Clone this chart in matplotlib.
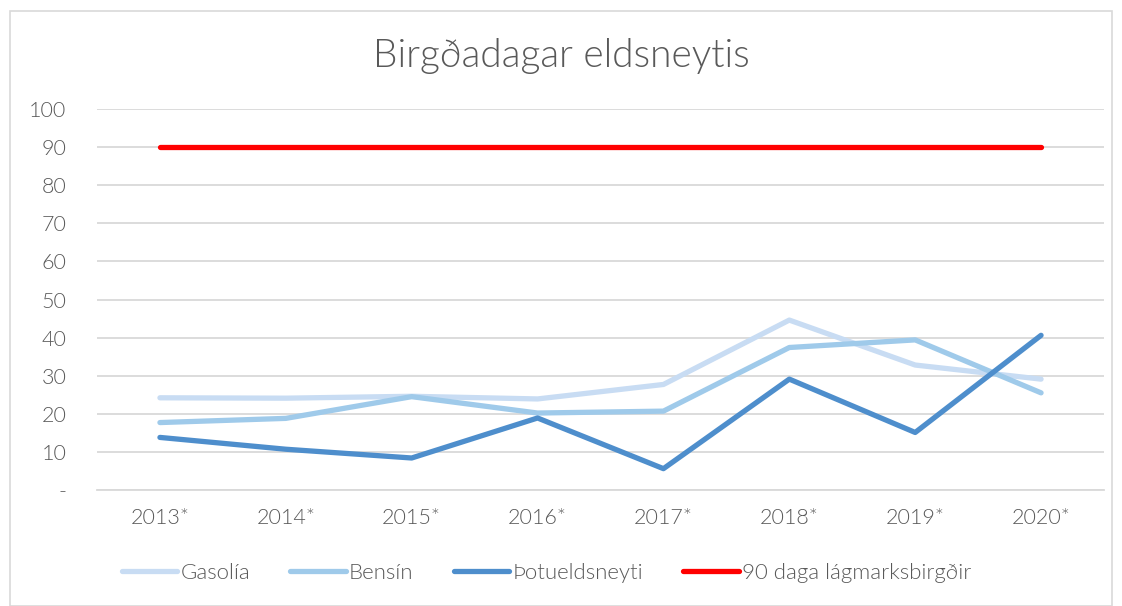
import matplotlib
matplotlib.use('Agg')
from matplotlib import pyplot as plt
from matplotlib.patches import Rectangle

years = ['2013*', '2014*', '2015*', '2016*', '2017*', '2018*', '2019*', '2020*']
gasolia = [24.2, 24.1, 24.6, 23.9, 27.7, 44.6, 32.8, 29.1]
bensin = [17.7, 18.8, 24.5, 20.2, 20.7, 37.4, 39.4, 25.5]
thotu = [13.8, 10.7, 8.4, 18.9, 5.6, 29.1, 15.1, 40.6]
lagmark = [90] * len(years)
yticks = [0, 10, 20, 30, 40, 50, 60, 70, 80, 90, 100]
ytick_labels = ['-'] + [str(v) for v in yticks[1:]]

plt.rcParams['font.family'] = ['Lato', 'DejaVu Sans']
plt.rcParams['font.weight'] = 300
txt = '#595959'

fig = plt.figure(figsize=(11.22, 6.06), dpi=100)
fig.patches.append(Rectangle((10 / 1122, 0), 1 - 20 / 1122, 1 - 11 / 606, transform=fig.transFigure,
                             fill=False, edgecolor='#d9d9d9', linewidth=1.2))
ax = fig.add_axes([97 / 1122, 116 / 606, 1007 / 1122, 381 / 606])

x = range(len(years))
ax.plot(x, gasolia, color='#c8dcf3', lw=3.8, solid_capstyle='round', label='Gasolía')
ax.plot(x, bensin, color='#9fcaea', lw=3.8, solid_capstyle='round', label='Bensín')
ax.plot(x, thotu, color='#4e8ecc', lw=3.8, solid_capstyle='round', label='Þotueldsneyti')
ax.plot(x, lagmark, color='#ff0000', lw=3.8, solid_capstyle='round', label='90 daga lágmarksbirgðir')

ax.set_xlim(-0.5, len(years) - 0.5)
ax.set_ylim(0, 100)
ax.set_yticks(yticks)
ax.set_yticklabels(ytick_labels)
ax.set_xticks(list(x))
ax.set_xticklabels(years)
ax.grid(axis='y', color='#d9d9d9', lw=1.3)
ax.set_axisbelow(True)
for s in ['top', 'right', 'left']:
    ax.spines[s].set_visible(False)
ax.spines['bottom'].set_color('#d9d9d9')
ax.spines['bottom'].set_linewidth(1.3)
ax.tick_params(axis='y', length=0, pad=22, labelsize=15.5, labelcolor=txt)
ax.tick_params(axis='x', length=0, pad=13, labelsize=15.5, labelcolor=txt)

fig.text(0.5, 0.908, 'Birgðadagar eldsneytis', ha='center', va='center', fontsize=28,
         color=txt, fontweight=300)
leg = fig.legend(loc='center', bbox_to_anchor=(0.487, 0.054), ncol=4, frameon=False,
                 handlelength=2.5, handletextpad=0.15, columnspacing=1.8,
                 prop={'size': 16, 'weight': 300})
for t in leg.get_texts():
    t.set_color(txt)

fig.savefig('out.png', dpi=100)
